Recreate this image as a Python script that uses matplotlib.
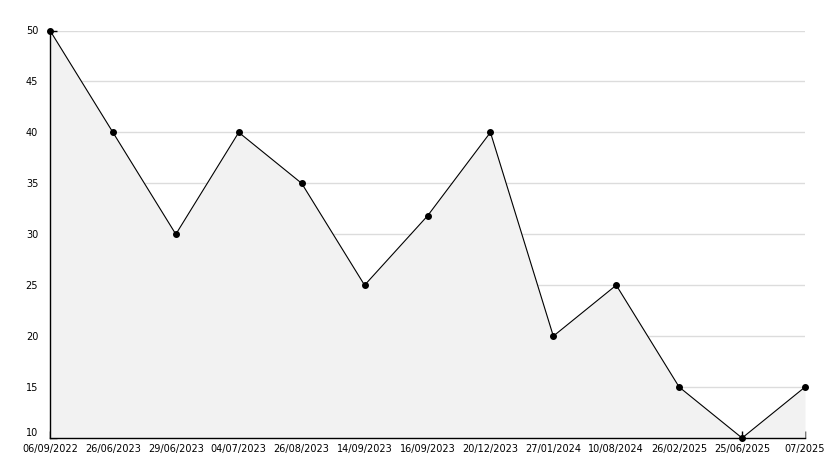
import matplotlib.pyplot as plt
from matplotlib.ticker import MultipleLocator

dates = ["06/09/2022", "26/06/2023", "29/06/2023", "04/07/2023", "26/08/2023",
         "14/09/2023", "16/09/2023", "20/12/2023", "27/01/2024", "10/08/2024",
         "26/02/2025", "25/06/2025", "07/2025"]
values = [50, 40, 30, 40, 35, 25, 31.8, 40, 20, 25, 15, 10, 15]

fig = plt.figure(figsize=(8.34, 4.68), dpi=100)
ax = fig.add_axes([50 / 834, 30 / 468, 755 / 834, 407.5 / 468])

x = list(range(len(values)))
ax.fill_between(x, values, 10, color="#f2f2f2", linewidth=0)
ax.plot(x, values, color="black", linewidth=0.8, marker="o", ms=4, zorder=3, clip_on=False)

ax.set_xlim(0, len(values) - 1)
ax.set_ylim(10, 50)
ax.yaxis.set_major_locator(MultipleLocator(5))
ax.yaxis.set_minor_locator(MultipleLocator(1))
ax.grid(axis="y", which="major", color="#dcdcdc", linewidth=1)
ax.set_axisbelow(True)

ax.set_xticks(x)
ax.set_xticklabels(dates)
ax.tick_params(axis="both", which="major", direction="in", length=5, width=1, labelsize=7)
ax.tick_params(axis="y", which="minor", direction="in", length=3, width=1)
ax.tick_params(axis="x", pad=4.5)
ax.tick_params(axis="y", pad=8.5)

# nudge the lowest y label up a little so it clears the first date
for lbl in ax.get_yticklabels():
    if lbl.get_text() == "10":
        lbl.set_verticalalignment("bottom")

for side in ["top", "right"]:
    ax.spines[side].set_visible(False)
for side in ["left", "bottom"]:
    ax.spines[side].set_linewidth(1)

fig.savefig("out.png", dpi=100)
